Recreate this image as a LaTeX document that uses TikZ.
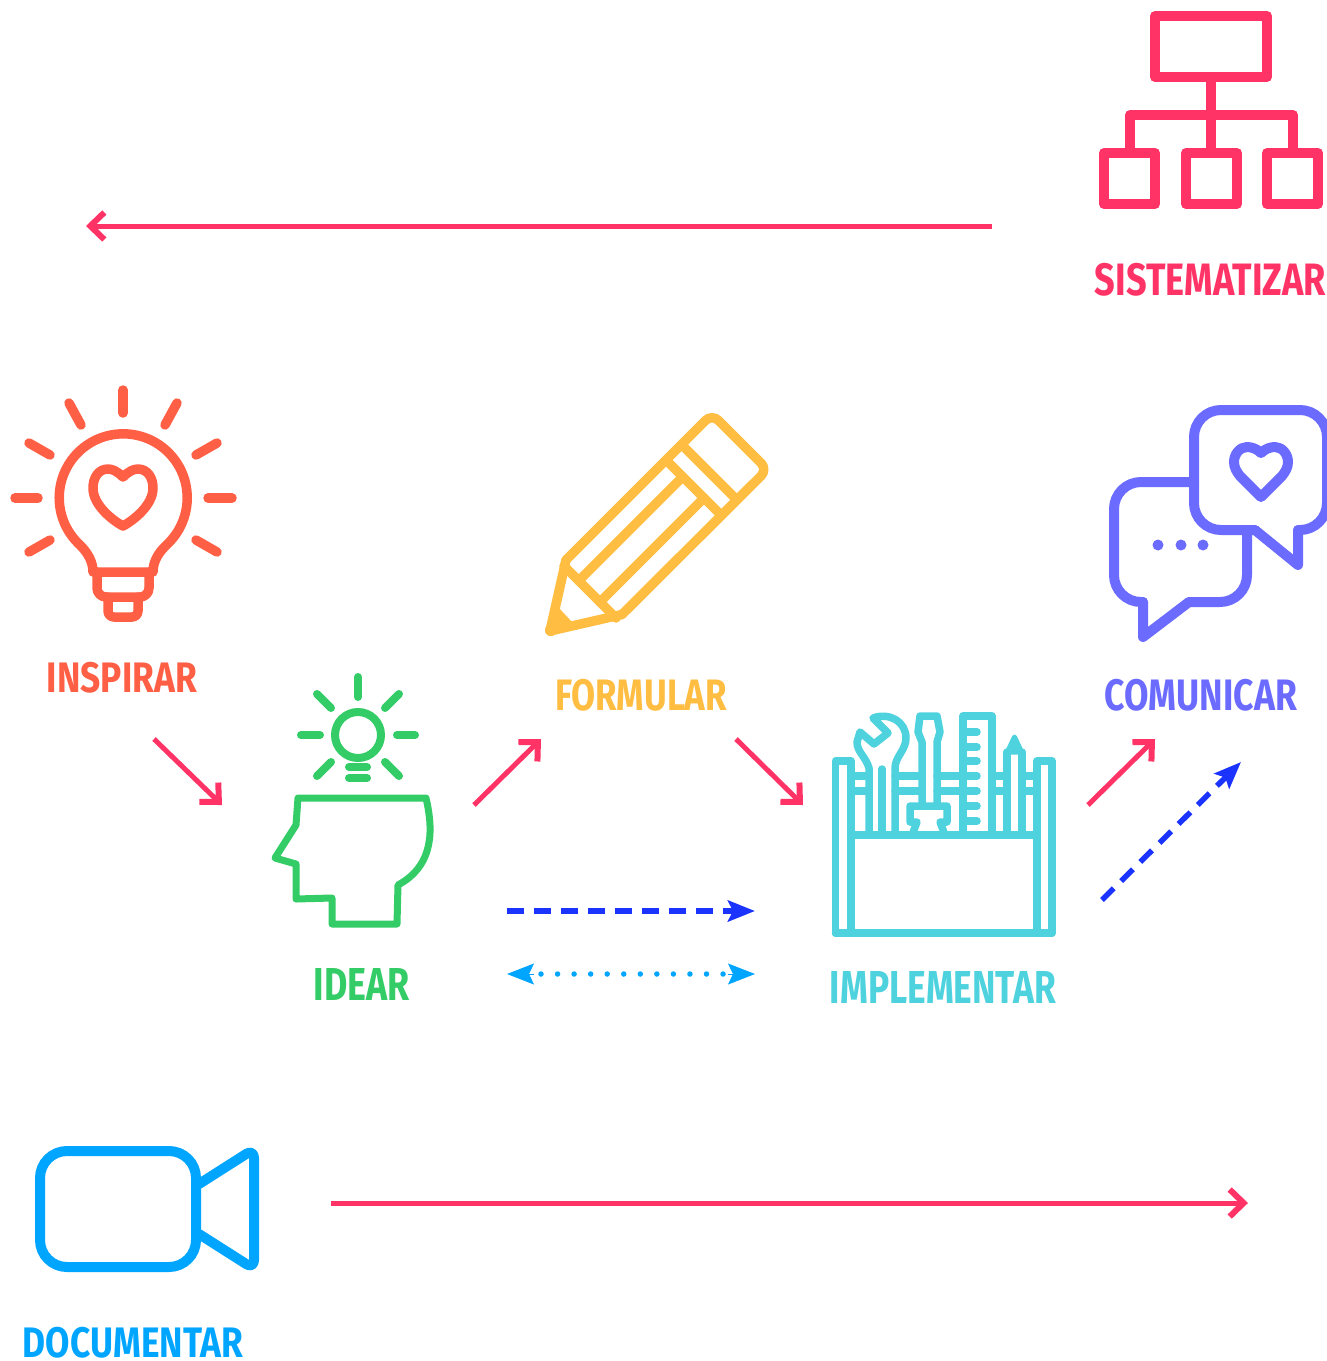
\documentclass[tikz,border=0pt]{standalone}
\usepackage{fontspec}
\usepackage{graphicx}
\setmainfont{Fira Sans}
\usetikzlibrary{arrows.meta}
\definecolor{cPink}{HTML}{FF3366}
\definecolor{cRed}{HTML}{FF5F45}
\definecolor{cYel}{HTML}{FFBD42}
\definecolor{cGrn}{HTML}{33CC66}
\definecolor{cCya}{HTML}{4DD2DE}
\definecolor{cPur}{HTML}{6B6BFF}
\definecolor{cBlu}{HTML}{00A5FF}
\definecolor{cInk}{HTML}{1A33FF}
\tikzset{
  icon/.style={line cap=round,line join=round,line width=#1},
  lbl/.style={inner sep=0pt,outer sep=0pt,text=#1,font=\bfseries},
  flow/.style={draw=cPink,line width=5pt,-{Straight Barb[length=14pt,width=27pt,line width=6pt]}},
  dashflow/.style={draw=cInk,line width=5.5pt,dash pattern=on 16.5pt off 10.5pt,-{Stealth[length=27pt,width=21pt,inset=5pt]}},
  dotline/.style={draw=cBlu,line width=5.5pt,line cap=round,dash pattern=on 0pt off 16.55pt},
  dothead/.style={draw=cBlu,line width=1pt,-{Stealth[length=27pt,width=21pt,inset=5pt]}},
}
\newcommand{\lab}[7]{\node[lbl=#6] (#1) at (#2,#3) {\resizebox*{#4pt}{#5pt}{#7}};}
\begin{document}
\begin{tikzpicture}[x=1pt,y=-1pt]
\useasboundingbox (0,0) rectangle (1327,1361);
\clip (0,0) rectangle (1327,1361);

% SISTEMATIZAR icon
\begin{scope}[draw=cPink,icon=10pt]
\draw (1155,16) rectangle (1267,77);
\draw (1104,153) rectangle (1155,204);
\draw (1186,153) rectangle (1237,204);
\draw (1267,153) rectangle (1318,204);
\draw (1211,77) -- (1211,153);
\draw (1130,153) -- (1130,115) -- (1293,115) -- (1293,153);
\end{scope}
\lab{sis}{1210.5}{279.5}{231}{33}{cPink}{SISTEMATIZAR}

% INSPIRAR icon
\begin{scope}[draw=cRed,icon=9.5pt]
\draw (80,545) arc[start angle=132.5,end angle=407.5,radius=64]
  .. controls (158,553) and (153,562) .. (153,572) -- (93,572)
  .. controls (93,562) and (88,553) .. (80,545) -- cycle;
\draw[rounded corners=9pt] (97,572) -- (97,597) -- (149,597) -- (149,572);
\draw[rounded corners=6pt] (108,597) -- (108,617) -- (138,617) -- (138,597);
\draw (123,477) .. controls (117,471) and (112,469) .. (108,469)
  .. controls (99,469) and (93,477) .. (93,488)
  .. controls (93,505) and (112,520) .. (123,526)
  .. controls (134,520) and (153,505) .. (153,488)
  .. controls (153,477) and (147,469) .. (138,469)
  .. controls (134,469) and (129,471) .. (123,477) -- cycle;
\draw (123,390) -- (123,413);
\draw (15,498) -- (38,498);
\draw (208,498) -- (232,498);
\draw (69,403) -- (81,425);
\draw (177,403) -- (165,425);
\draw (29,443) -- (50,455);
\draw (217,443) -- (196,455);
\draw (50,540) -- (29,552);
\draw (196,540) -- (217,552);
\end{scope}
\lab{ins}{122}{677.5}{150}{31}{cRed}{INSPIRAR}

% FORMULAR icon
\begin{scope}[draw=cYel,icon=9.5pt]
\draw[rounded corners=9pt] (566,560) -- (712,414) -- (767.5,469.5) -- (622,614.5);
\draw (566,560) -- (550,631) -- (622,614.5);
\fill[cYel] (550,631) -- (559,608) -- (572,622) -- cycle;
\fill[cYel] (551,630) circle[radius=6];
\draw (564,566) -- (616,618);
\draw (682,445) -- (736.5,499.5);
\draw (666.5,460.5) -- (721,515);
\draw (682.75,476.75) -- (578.75,580.75);
\draw (704,498) -- (600,602);
\end{scope}
\lab{for}{641}{695}{172}{32}{cYel}{FORMULAR}

% IDEAR icon
\begin{scope}[draw=cGrn,icon=8pt]
\draw (358,735) circle[radius=23];
\draw (358,677) -- (358,697);
\draw (301,735) -- (320,735);
\draw (397,735) -- (415,735);
\draw (317,694) -- (331,708);
\draw (399,694) -- (385,708);
\draw (331,762) -- (317,776);
\draw (385,762) -- (399,776);
\draw (349,767) -- (367,767);
\draw (349,778) -- (367,778);
\draw[line width=7pt] (298,798) -- (426,798)
  .. controls (433,828) and (435,865) .. (398,885)
  -- (397,924) -- (332,924) -- (332,898) -- (296,899) -- (296,864)
  -- (275,858) -- (296,825) -- cycle;
\end{scope}
\lab{ide}{362}{984}{96}{32}{cGrn}{IDEAR}

% IMPLEMENTAR icon
\begin{scope}[draw=cCya,icon=7.5pt]
\draw (835.5,761) -- (851,761) -- (851,933) -- (835.5,933) -- cycle;
\draw (1037,761) -- (1052,761) -- (1052,933) -- (1037,933) -- cycle;
\draw (835.5,933) -- (1052,933);
\draw (851,835) -- (1037,835);
\foreach \yy in {776,791}{
  \draw (851,\yy) -- (869,\yy);
  \draw (895,\yy) -- (922,\yy);
  \draw (937,\yy) -- (963,\yy);
  \draw (992,\yy) -- (1007,\yy);
  \draw (1022,\yy) -- (1037,\yy);
}
\draw (869,835) -- (869,768) .. controls (866,757) and (857,752) .. (857,742)
  -- (860,732) -- (874,744) -- (888,733) -- (873,718)
  .. controls (890,712) and (906,722) .. (906,738)
  .. controls (906,750) and (895,757) .. (895,768) -- (895,835);
\draw (882,769) -- (882,835);
\draw (922,806) -- (922,742) -- (918,732) -- (920,716) -- (937,716) -- (940,732) -- (937,742) -- (937,806);
\draw (912,835) -- (917,822) -- (910,822) -- (910,806) -- (947,806) -- (947,822) -- (940,822) -- (945,835);
\draw (963,835) -- (963,716) -- (992,716) -- (992,835);
\foreach \yy in {732,747,761,776,791,806,821}{
  \draw (963,\yy) -- (977,\yy);
}
\draw (1007,835) -- (1007,752);
\draw (1022,835) -- (1022,752);
\draw[fill=cCya,line width=5pt] (1007.5,752) -- (1014.5,737) -- (1021.5,752) -- cycle;
\end{scope}
\lab{imp}{943}{987}{226}{32}{cCya}{IMPLEMENTAR}

% COMUNICAR icon
\begin{scope}[draw=cPur,icon=10pt]
\draw[rounded corners=27pt] (1194,482) -- (1114,482) -- (1114,602) -- (1143,602);
\draw (1143,602) -- (1143,637) -- (1189,602);
\draw[rounded corners=27pt] (1189,602) -- (1247,602) -- (1247,530);
\draw[rounded corners=27pt] (1255,530) -- (1194,530) -- (1194,410) -- (1327,410) -- (1327,530) -- (1298,530);
\draw (1298,530) -- (1298,565) -- (1255,530);
\draw (1261,453) .. controls (1257,449) and (1252,447) .. (1247,447)
  .. controls (1240,447) and (1234,454) .. (1234,462)
  .. controls (1234,468) and (1237,472) .. (1240,476) -- (1261,497) -- (1282,476)
  .. controls (1285,472) and (1288,468) .. (1288,462)
  .. controls (1288,454) and (1282,447) .. (1275,447)
  .. controls (1270,447) and (1265,449) .. (1261,453) -- cycle;
\fill[cPur] (1158,545) circle[radius=5.5];
\fill[cPur] (1181,545) circle[radius=5.5];
\fill[cPur] (1203,545) circle[radius=5.5];
\end{scope}
\lab{com}{1201}{695.5}{192}{32}{cPur}{COMUNICAR}

% DOCUMENTAR icon
\begin{scope}[draw=cBlu,icon=10pt]
\draw[rounded corners=27pt] (40,1151) rectangle (196,1267);
\draw[rounded corners=9pt] (199,1184) -- (254,1149) -- (254,1269) -- (199,1234);
\end{scope}
\lab{doc}{133}{1342.5}{220}{31}{cBlu}{DOCUMENTAR}

% connector ends
\coordinate (sysA) at (992,226);   \coordinate (sysB) at (86,226);
\coordinate (insA) at (154,739);   \coordinate (insB) at (222,805);
\coordinate (ideA) at (474,805);   \coordinate (ideB) at (541,739);
\coordinate (forA) at (736,739);   \coordinate (forB) at (803,805);
\coordinate (impA) at (1088,805);  \coordinate (impB) at (1155,739);
\coordinate (docA) at (331,1203);  \coordinate (docB) at (1248,1203);
\coordinate (dashA) at (507,911);  \coordinate (dashB) at (755,911);
\coordinate (dotA) at (507,974);   \coordinate (dotB) at (755,974);
\coordinate (dotC) at (534,974);   \coordinate (dotD) at (728,974);
\coordinate (dotE) at (541,974);   \coordinate (dotF) at (725,974);
\coordinate (diagA) at (1102,900); \coordinate (diagB) at (1241,762);

\draw[flow] (sysA) -- (sysB);
\draw[flow] (insA) -- (insB);
\draw[flow] (ideA) -- (ideB);
\draw[flow] (forA) -- (forB);
\draw[flow] (impA) -- (impB);
\draw[flow] (docA) -- (docB);
\draw[dashflow] (dashA) -- (dashB);
\draw[dashflow] (diagA) -- (diagB);
\draw[dotline] (dotE) -- (dotF);
\draw[dothead] (dotC) -- (dotA);
\draw[dothead] (dotD) -- (dotB);
\end{tikzpicture}
\end{document}
